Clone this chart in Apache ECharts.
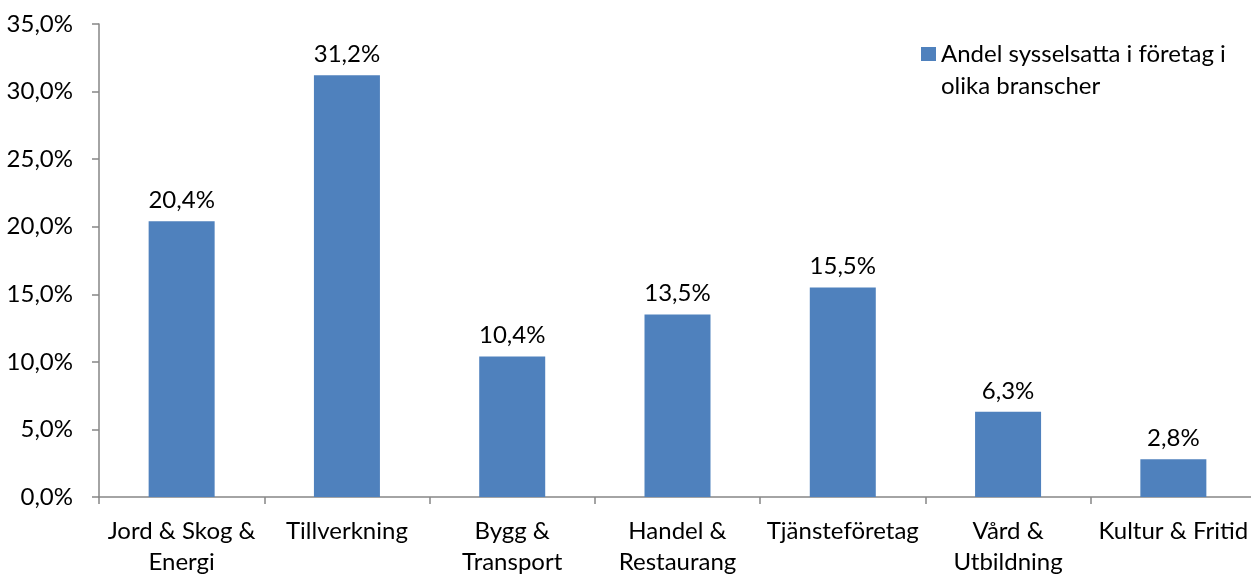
<!DOCTYPE html>
<html>
<head>
<meta charset="utf-8">
<script src="https://cdn.jsdelivr.net/npm/echarts@6/dist/echarts.min.js"></script>
<style>
  html, body { margin: 0; padding: 0; background: #fff; }
  #chart { width: 1251px; height: 576px; }
</style>
</head>
<body>
<div id="chart"></div>
<script>
// branscher och andelar (procent)
var categories = ['Jord & Skog &\nEnergi', 'Tillverkning', 'Bygg &\nTransport', 'Handel &\nRestaurang', 'Tjänsteföretag', 'Vård &\nUtbildning', 'Kultur & Fritid'];
var values = [20.4, 31.2, 10.4, 13.5, 15.5, 6.3, 2.8];
var seriesName = 'Andel sysselsatta i företag i\nolika branscher';

var fmt = function (v) { return v.toFixed(1).replace('.', ',') + '%'; };
var font = 'Lato, "Noto Sans", sans-serif';

var myChart = echarts.init(document.getElementById('chart'));
var option = {
    backgroundColor: '#fff',
    animation: false,
    textStyle: { fontFamily: font },
    grid: {
        left: 99,
        top: 24,
        width: 1157,
        height: 473,
        outerBoundsMode: 'none',
        containLabel: false
    },
    legend: {
        left: 916,
        top: 1,
        itemWidth: 15,
        itemHeight: 14,
        icon: 'rect',
        data: [seriesName],
        // tom första rad så att rutan hamnar i höjd med första textraden
        formatter: function (name) { return ' \n' + name; },
        textStyle: {
            color: '#000',
            fontSize: 24,
            lineHeight: 32,
            fontFamily: font
        }
    },
    xAxis: {
        type: 'category',
        data: categories,
        axisLine: { lineStyle: { color: '#868686', width: 1.5 } },
        axisTick: { show: true, length: 7, lineStyle: { color: '#868686', width: 1.5 } },
        axisLabel: {
            interval: 0,
            color: '#000',
            fontSize: 24,
            lineHeight: 31,
            margin: 19,
            fontFamily: font
        }
    },
    yAxis: {
        type: 'value',
        min: 0,
        max: 35,
        interval: 5,
        splitLine: { show: false },
        axisLine: { show: true, lineStyle: { color: '#868686', width: 1.5 } },
        axisTick: { show: true, length: 7, lineStyle: { color: '#868686', width: 1.5 } },
        axisLabel: {
            color: '#000',
            fontSize: 24,
            margin: 26,
            fontFamily: font,
            formatter: fmt
        }
    },
    series: [{
        name: seriesName,
        type: 'bar',
        data: values,
        barWidth: 66,
        itemStyle: { color: '#4F81BD' },
        label: {
            show: true,
            position: 'top',
            distance: 9,
            color: '#000',
            fontSize: 24,
            fontFamily: font,
            formatter: function (p) { return fmt(p.value); }
        }
    }]
};
myChart.setOption(option);
</script>
</body>
</html>
